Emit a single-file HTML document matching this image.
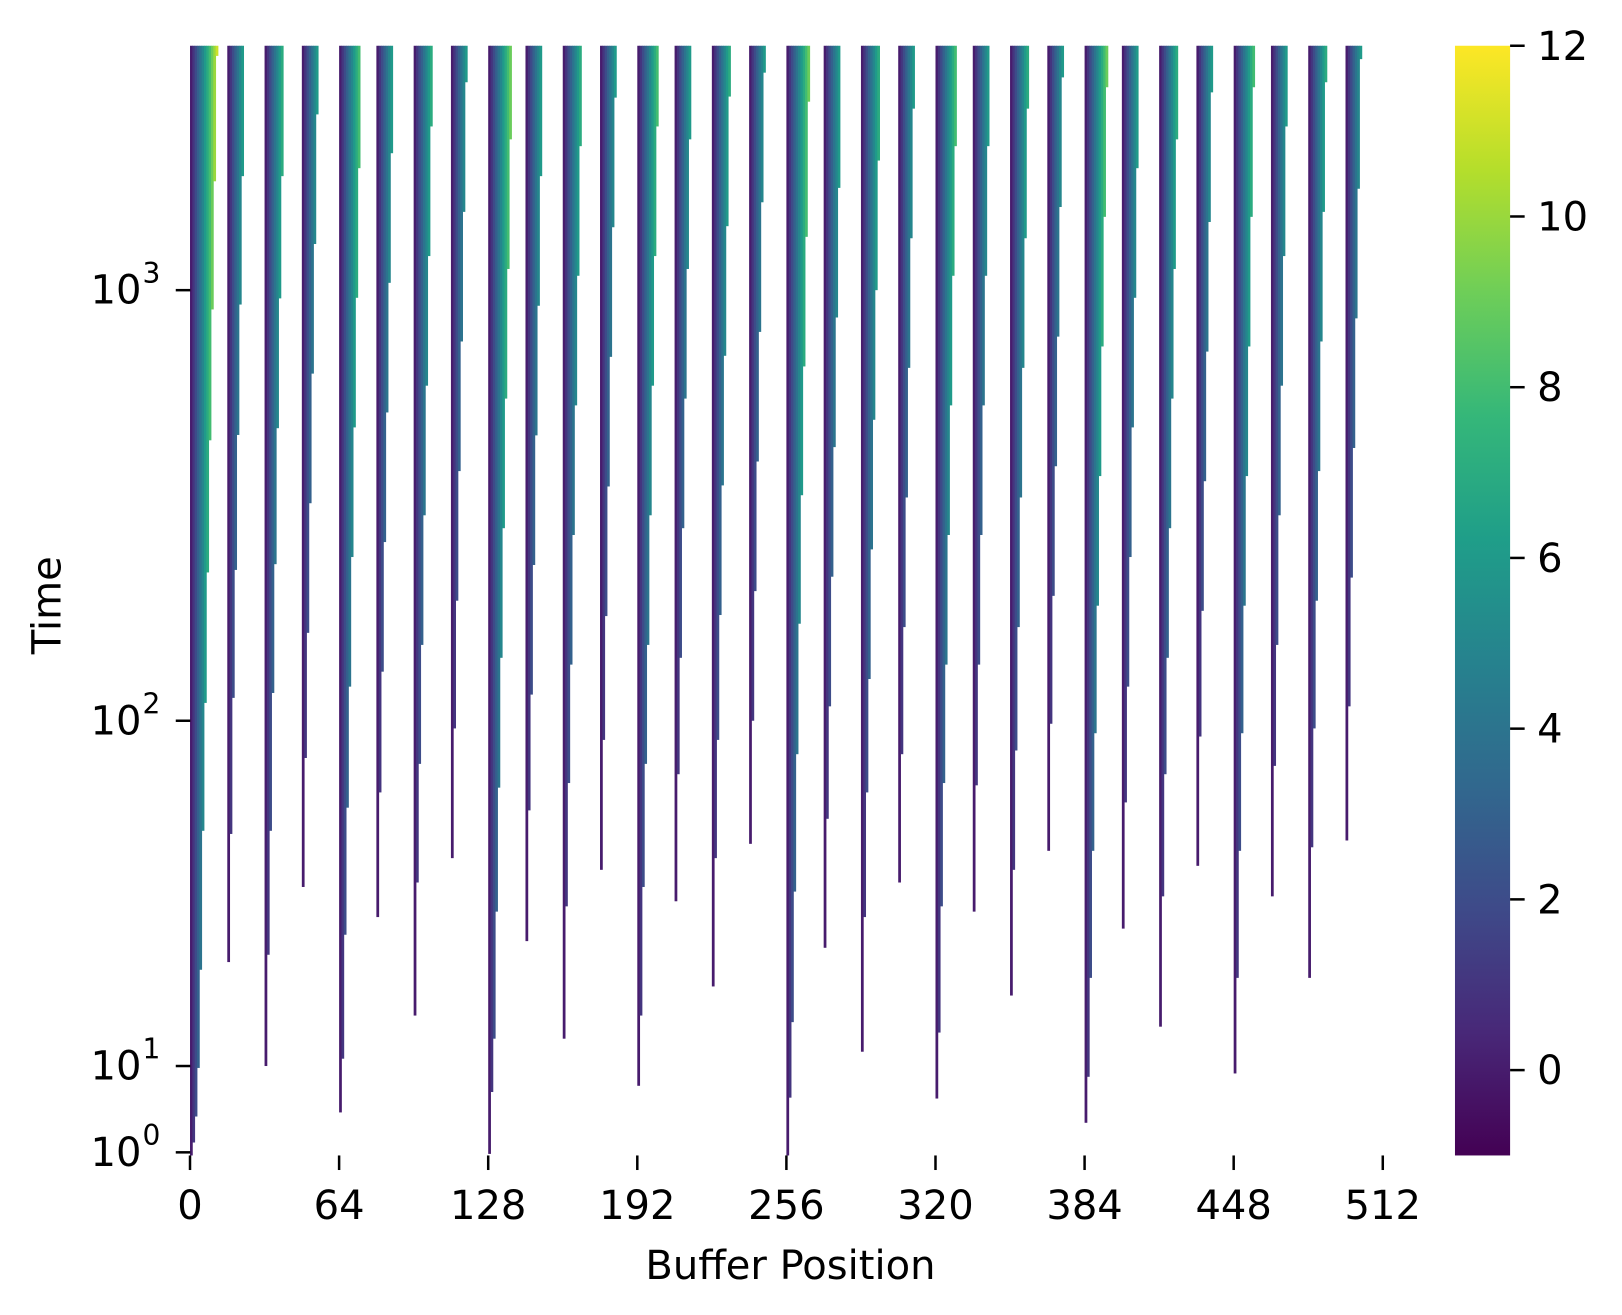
<!DOCTYPE html>
<html><head><meta charset="utf-8"><style>
html,body{margin:0;padding:0;background:#fff;}
svg{display:block;}
text{font-family:"DejaVu Sans","Liberation Sans",sans-serif;fill:#000;}
</style></head><body>
<svg id="chart" width="1622" height="1315" viewBox="0 0 1559.6 1264.4" preserveAspectRatio="none" xmlns="http://www.w3.org/2000/svg">
<g id="cells"></g>
<g id="axes"></g>
<defs><linearGradient id="vir" x1="0" y1="1" x2="0" y2="0"></linearGradient></defs>
<g id="cbar"></g>
</svg>
<script>
// Group positions (buffer position of first sub-column) and start times of each sub-column
const groupPositions = [0,16,32,48,64,80,96,112,128,144,160,176,192,208,224,240,256,272,288,304,320,336,352,368,384,400,416,432,448,464,480,496];
const startTimes = [
 [0.9,1.3,2.6,9.5,19,48,110,221,448,902,1790,3500],
 [20,47,113,224,461,926,1840],
 [10,21,48,116,231,478,957,1840],
 [33,78,160,320,640,1280,2560],
 [2.9,10.5,24,56,120,240,480,960,1920],
 [27,62,130,260,520,1040,2080],
 [14,34,75,150,300,600,1200,2400],
 [40,95,190,380,760,1520,3040],
 [0.95,5,12,28,64,140,280,560,1120,2240],
 [23,55,115,230,460,920,1840],
 [12,29,66,135,270,540,1080,2160],
 [37,88,175,350,700,1400,2800],
 [5.9,14,33,75,150,300,600,1200,2400],
 [30,70,140,280,560,1120,2240],
 [17,40,88,176,352,704,1408,2816],
 [44,100,200,400,800,1600,3200],
 [0.9,4.3,13.4,32,80,168,334,665,1330,2740],
 [22,52,108,216,432,864,1728],
 [11,27,62,125,250,500,1000,2000],
 [34,80,165,330,660,1320,2640],
 [4.2,12.5,29,66,135,270,540,1080,2160],
 [28,65,135,270,540,1080,2160],
 [16,37,82,165,330,660,1320,2640],
 [42,98,195,390,780,1560,3120],
 [2.2,7.5,18,42,92,185,370,740,1480,2960],
 [25,58,120,240,480,960,1920],
 [13,31,70,140,280,560,1120,2240],
 [38,90,180,360,720,1440,2880],
 [8.2,18,42,92,185,370,740,1480,2960],
 [31,74,150,300,600,1200,2400],
 [18,43,95,190,380,760,1520,3040],
 [45,108,215,430,860,1720,3440]
];
const xTicks = [0,64,128,192,256,320,384,448,512];
const yTickExps = [0,1,2,3];
const cbarTicks = [0,2,4,6,8,10,12];
const vmin = -1, vmax = 12;

const NS = "http://www.w3.org/2000/svg";
const X0 = 182.7, PX = 2.24;
const TOP = 44, BOT = 1111;
const FS = 38.5;
function xs(v){ return X0 + v*PX; }
function ys(t){
  if (t <= 1) return Math.min(BOT, 1108 + (1-t)*30);
  const l = Math.log10(t);
  if (l <= 1) return 1108 - l*83;
  if (l <= 2) return 1025 - (l-1)*332;
  if (l <= 3) return 693 - (l-2)*414;
  return Math.max(TOP, 279 - (l-3)*414);
}
const VIR = [[68,1,84],[72,40,120],[62,74,137],[49,104,142],[38,130,142],[31,158,137],[53,183,121],[110,206,88],[181,222,43],[253,231,37]];
function viridis(v){
  let f = Math.max(0, Math.min(1, (v - vmin)/(vmax - vmin))) * (VIR.length-1);
  const i = Math.min(VIR.length-2, Math.floor(f)); f -= i;
  const c = VIR[i].map((a,k)=>Math.round(a + (VIR[i+1][k]-a)*f));
  return `rgb(${c[0]},${c[1]},${c[2]})`;
}
function mk(tag, attrs, parent){
  const e = document.createElementNS(NS, tag);
  for (const k in attrs) e.setAttribute(k, attrs[k]);
  parent.appendChild(e); return e;
}
const cells = document.getElementById('cells');
startTimes.forEach((arr, g) => {
  arr.forEach((t, k) => {
    const y = ys(t);
    const r = mk('rect', {x: xs(groupPositions[g]+k), y: TOP, width: PX+0.4, height: y-TOP, fill: viridis(k)}, cells);
    
    
  });
});
const axes = document.getElementById('axes');
xTicks.forEach(v => {
  const l = mk('line', {x1: xs(v), x2: xs(v), y1: BOT, y2: BOT+14, stroke: '#000', 'stroke-width': 2.4}, axes);
  
  
  const t = mk('text', {x: xs(v), y: 1172, 'text-anchor': 'middle', 'font-size': FS}, axes);
  t.textContent = v;
  
  
});
yTickExps.forEach(e => {
  const y = ys(Math.pow(10, e));
  const l = mk('line', {x1: 169, x2: 183, y1: y, y2: y, stroke: '#000', 'stroke-width': 2.4}, axes);
  
  
  const t = mk('text', {x: 136, y: y+13, 'text-anchor': 'end', 'font-size': FS}, axes);
  t.textContent = '10';
  
  
  const s = mk('text', {x: 137, y: y-7, 'font-size': 27}, axes);
  s.textContent = e;
  
  
});
const xl = mk('text', {x: 760, y: 1230, 'text-anchor': 'middle', 'font-size': FS}, axes);
xl.textContent = 'Buffer Position';


const yl = mk('text', {x: 0, y: 0, 'text-anchor': 'middle', 'font-size': FS, transform: 'translate(58,582) rotate(-90)'}, axes);
yl.textContent = 'Time';



// colorbar
const grad = document.getElementById('vir');
VIR.forEach((c,i) => mk('stop', {offset: i/(VIR.length-1), 'stop-color': `rgb(${c})`}, grad));
const cb = document.getElementById('cbar');
const CX = 1399, CW = 53, CT = 44, CB = 1111;
function cy(v){ return CB - (v - vmin)/(vmax - vmin)*(CB-CT); }
const bar = mk('rect', {x: CX, y: CT, width: CW, height: CB-CT, fill: 'url(#vir)'}, cb);


cbarTicks.forEach(v => {
  const l = mk('line', {x1: CX+CW, x2: CX+CW+14, y1: cy(v), y2: cy(v), stroke: '#000', 'stroke-width': 2.4}, cb);
  
  
  const t = mk('text', {x: CX+CW+26, y: cy(v)+13.5, 'font-size': FS}, cb);
  t.textContent = v;
  
  
});
</script>
</body></html>
